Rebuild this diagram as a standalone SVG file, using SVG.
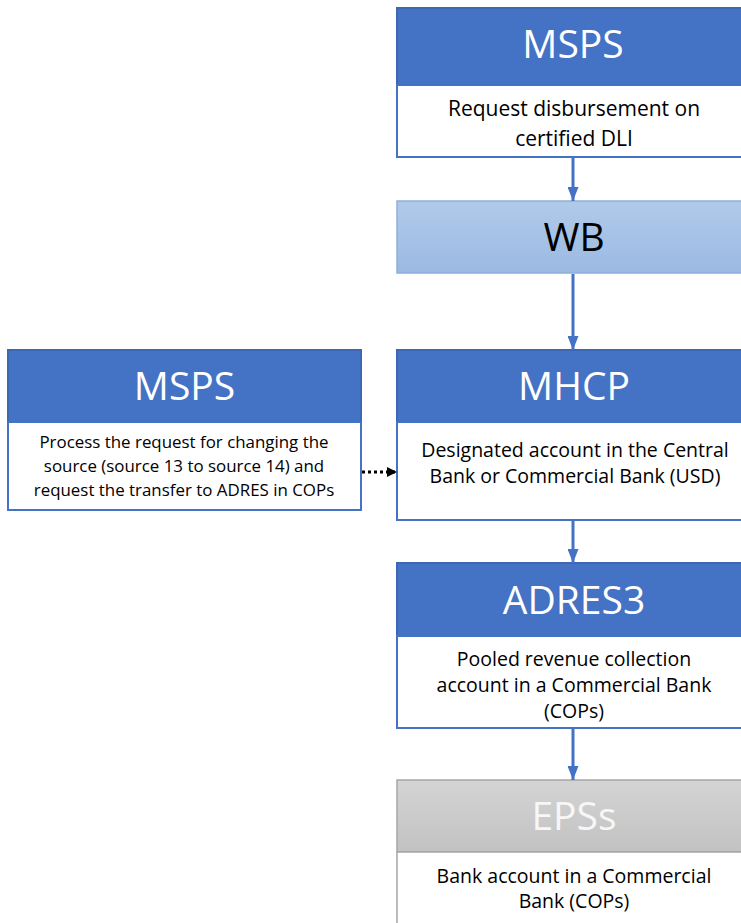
<svg xmlns="http://www.w3.org/2000/svg" width="741" height="923" viewBox="0 0 741 923">
<defs>
<linearGradient id="gWB" x1="0" y1="0" x2="0" y2="1"><stop offset="0" stop-color="#b0cae9"/><stop offset="1" stop-color="#9bbae3"/></linearGradient>
<linearGradient id="gEPS" x1="0" y1="0" x2="0" y2="1"><stop offset="0" stop-color="#d4d4d4"/><stop offset="1" stop-color="#c2c2c2"/></linearGradient>
<marker id="ab" viewBox="0 0 14 11" refX="14" refY="5.5" markerWidth="14" markerHeight="11" markerUnits="userSpaceOnUse" orient="auto"><path d="M0,0 L14,5.5 L0,11 Z" fill="#4472C4"/></marker>
<marker id="ak" viewBox="0 0 10 10" refX="10" refY="5" markerWidth="10" markerHeight="10" markerUnits="userSpaceOnUse" orient="auto"><path d="M0,0 L10,5 L0,10 Z" fill="#000"/></marker>
</defs>
<style>
.hdr{fill:#4472C4;stroke:#3d67b3;stroke-width:2}
.body{fill:#fff;stroke:#4472C4;stroke-width:2}
.ht{font-family:"Open Sans","Noto Sans",sans-serif;font-size:39px;fill:#fff;text-anchor:middle}
.bt{font-family:"Open Sans","Noto Sans",sans-serif;font-size:19.5px;fill:#000;text-anchor:middle}
.tt{font-family:"Open Sans","Noto Sans",sans-serif;font-size:21px;fill:#000;text-anchor:middle}
.st{font-family:"Open Sans","Noto Sans",sans-serif;font-size:16.9px;fill:#000;text-anchor:middle}
.con{stroke:#4472C4;stroke-width:3;fill:none}
</style>
<g id="msps-top">
<rect class="hdr" x="397" y="8" width="350" height="77"/>
<rect class="body" x="397" y="85" width="350" height="72"/>
<text class="ht" x="573" y="58">MSPS</text>
<text class="tt" x="574" y="116">Request disbursement on</text>
<text class="tt" x="574" y="146">certified DLI</text>
</g>
<g id="wb">
<rect x="397" y="201" width="350" height="72" fill="url(#gWB)" stroke="#8eafdc" stroke-width="1.5"/>
<text class="ht" x="574" y="251" style="fill:#000">WB</text>
</g>
<g id="msps-left">
<rect class="hdr" x="8" y="350" width="353" height="72"/>
<rect class="body" x="8" y="422" width="353" height="88"/>
<text class="ht" x="184.5" y="400">MSPS</text>
<text class="st" x="184" y="448">Process the request for changing the</text>
<text class="st" x="184" y="472">source (source 13 to source 14) and</text>
<text class="st" x="184" y="496">request the transfer to ADRES in COPs</text>
</g>
<g id="mhcp">
<rect class="hdr" x="397" y="350" width="350" height="72"/>
<rect class="body" x="397" y="422" width="350" height="98"/>
<text class="ht" x="574" y="400">MHCP</text>
<text class="bt" x="575" y="457">Designated account in the Central</text>
<text class="bt" x="575" y="483">Bank or Commercial Bank (USD)</text>
</g>
<g id="adres3">
<rect class="hdr" x="397" y="563" width="350" height="73"/>
<rect class="body" x="397" y="636" width="350" height="92"/>
<text class="ht" x="574" y="614">ADRES3</text>
<text class="bt" x="574" y="666">Pooled revenue collection</text>
<text class="bt" x="574" y="692">account in a Commercial Bank</text>
<text class="bt" x="574" y="718">(COPs)</text>
</g>
<g id="epss">
<rect x="397" y="780" width="350" height="72" fill="url(#gEPS)" stroke="#a6a6a6" stroke-width="1.5"/>
<rect x="397" y="852" width="350" height="80" fill="#fff" stroke="#a6a6a6" stroke-width="1.5"/>
<text class="ht" x="574" y="830" style="fill:#f7f7f7">EPSs</text>
<text class="bt" x="574" y="883">Bank account in a Commercial</text>
<text class="bt" x="574" y="908">Bank (COPs)</text>
</g>
<g id="connectors">
<line class="con" x1="573" y1="158" x2="573" y2="201" marker-end="url(#ab)"/>
<line class="con" x1="573" y1="274" x2="573" y2="350" marker-end="url(#ab)"/>
<line class="con" x1="573" y1="521" x2="573" y2="563" marker-end="url(#ab)"/>
<line class="con" x1="573" y1="729" x2="573" y2="780" marker-end="url(#ab)"/>
<line x1="362" y1="472" x2="397" y2="472" stroke="#000" stroke-width="3" stroke-dasharray="3,3" marker-end="url(#ak)"/>
</g>
</svg>
